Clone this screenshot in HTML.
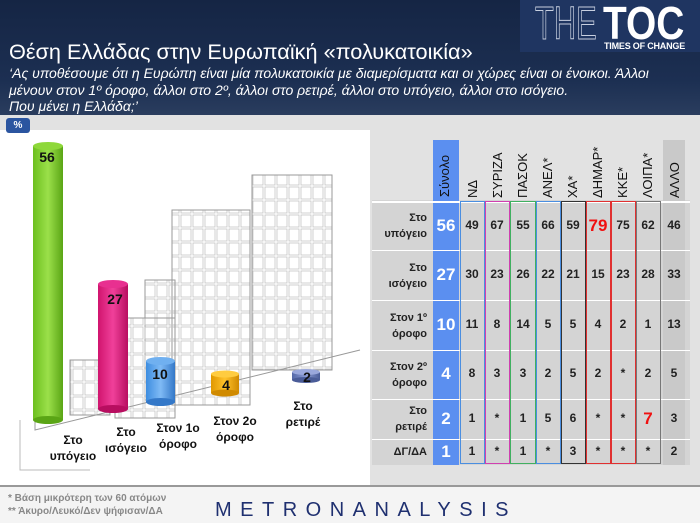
<!DOCTYPE html>
<html><head><meta charset="utf-8"><style>
*{margin:0;padding:0;box-sizing:border-box}
body{width:700px;height:523px;overflow:hidden;position:relative;background:#e2e2e2;font-family:"Liberation Sans","DejaVu Sans",sans-serif}
.hdr{position:absolute;left:0;top:0;width:700px;height:115px;background:linear-gradient(#152544,#1c2f52 70%,#2a3d5e)}
.t{position:absolute;color:#fff;white-space:nowrap}
.tbl div{position:absolute;text-align:center;font-weight:bold;font-size:12px;color:#222}
.lab{position:absolute;text-align:right;font-weight:bold;font-size:11px;color:#222;line-height:16px}
.vh{position:absolute;writing-mode:vertical-rl;transform:rotate(180deg);font-size:13px;color:#111;text-align:left}
.cl{position:absolute;font-weight:bold;font-size:12px;color:#111;text-align:center;line-height:16px}
</style></head><body>
<div class="hdr"></div>
<div style="position:absolute;left:520px;top:0;width:180px;height:52px;background:#1f3561"></div>
<div class="t" style="left:535px;top:0;font-size:46px;line-height:46px;font-weight:normal;color:transparent;-webkit-text-stroke:1px #c8d0e0;transform:scaleX(0.67);transform-origin:left">THE</div>
<div class="t" style="left:603px;top:0;font-size:46px;line-height:46px;font-weight:bold;transform:scaleX(0.845);transform-origin:left">TOC</div>
<div class="t" style="left:604px;top:41px;font-size:9px;font-weight:bold;letter-spacing:-0.2px">TIMES OF CHANGE</div>
<div class="t" style="left:9px;top:39px;font-size:21.7px">Θέση Ελλάδας στην Ευρωπαϊκή «πολυκατοικία»</div>
<div class="t" style="left:9px;top:65px;font-size:14px;font-style:italic;line-height:16.5px">‘Ας υποθέσουμε ότι η Ευρώπη είναι μία πολυκατοικία με διαμερίσματα και οι χώρες είναι οι ένοικοι. Άλλοι<br>μένουν στον 1º όροφο, άλλοι στο 2º, άλλοι στο ρετιρέ, άλλοι στο υπόγειο, άλλοι στο ισόγειο.<br>Που μένει η Ελλάδα;’</div>
<div style="position:absolute;left:0;top:130px;width:370px;height:355px;background:#fff"></div>
<div style="position:absolute;left:6px;top:118px;width:24px;height:15px;background:#2b55a0;border-radius:3px;color:#fff;font-size:10px;font-weight:bold;text-align:center;line-height:15px">%</div>
<svg style="position:absolute;left:0;top:130px" width="370" height="355">
<defs><pattern id="g" width="12" height="14" patternUnits="userSpaceOnUse"><rect x="1" y="1" width="10" height="12" fill="none" stroke="#c4c4c4" stroke-width="0.8"/></pattern></defs>
<g stroke="#999" stroke-width="1" fill="url(#g)">
<rect x="252" y="45" width="80" height="195"/>
<rect x="172" y="80" width="78" height="195"/>
<rect x="145" y="150" width="30" height="120"/>
<rect x="115" y="188" width="60" height="100"/>
<rect x="70" y="230" width="40" height="55"/>
</g>
<polyline points="35,275 35,300 360,220" fill="none" stroke="#999"/>
<polyline points="20,290 20,340 90,340" fill="none" stroke="#bbb"/>
</svg>
<svg style="position:absolute;left:0;top:0" width="370" height="485">
<defs>
<linearGradient id="cg" x1="0" x2="1"><stop offset="0" stop-color="#6cbf1e"/><stop offset=".5" stop-color="#9be04a"/><stop offset="1" stop-color="#5aa515"/></linearGradient>
<linearGradient id="cm" x1="0" x2="1"><stop offset="0" stop-color="#d0146e"/><stop offset=".5" stop-color="#f0409a"/><stop offset="1" stop-color="#b80e60"/></linearGradient>
<linearGradient id="cb" x1="0" x2="1"><stop offset="0" stop-color="#3d8de0"/><stop offset=".5" stop-color="#7fbaf5"/><stop offset="1" stop-color="#3478c8"/></linearGradient>
<linearGradient id="co" x1="0" x2="1"><stop offset="0" stop-color="#e09800"/><stop offset=".5" stop-color="#ffc22a"/><stop offset="1" stop-color="#d08a00"/></linearGradient>
<linearGradient id="cp" x1="0" x2="1"><stop offset="0" stop-color="#5468a8"/><stop offset=".5" stop-color="#8c9cd4"/><stop offset="1" stop-color="#4a5c98"/></linearGradient>
</defs>
<rect x="33" y="146" width="30" height="274" fill="url(#cg)"/><ellipse cx="48" cy="420" rx="15" ry="4" fill="#5aa515"/><ellipse cx="48" cy="146" rx="15" ry="4" fill="#8ed83a"/>
<rect x="98" y="284" width="30" height="125" fill="url(#cm)"/><ellipse cx="113" cy="409" rx="15" ry="4" fill="#b80e60"/><ellipse cx="113" cy="284" rx="15" ry="4" fill="#e83090"/>
<rect x="146" y="361" width="29" height="41" fill="url(#cb)"/><ellipse cx="160.5" cy="402" rx="14.5" ry="4" fill="#3478c8"/><ellipse cx="160.5" cy="361" rx="14.5" ry="4" fill="#70b0f0"/>
<rect x="211" y="374" width="28" height="19" fill="url(#co)"/><ellipse cx="225" cy="393" rx="14" ry="3.5" fill="#d08a00"/><ellipse cx="225" cy="374" rx="14" ry="3.5" fill="#ffcc40"/>
<rect x="292" y="372" width="28" height="8" fill="url(#cp)"/><ellipse cx="306" cy="380" rx="14" ry="3" fill="#4a5c98"/><ellipse cx="306" cy="372" rx="14" ry="3" fill="#9aa8dc"/>
<g font-family="Liberation Sans,sans-serif" font-weight="bold" font-size="14" fill="#111" text-anchor="middle">
<text x="47" y="162">56</text><text x="115" y="304">27</text><text x="160" y="379">10</text><text x="226" y="390">4</text><text x="307" y="382">2</text></g>
</svg>
<div class="cl" style="left:48px;top:432px;width:50px">Στο<br>υπόγειο</div>
<div class="cl" style="left:100px;top:424px;width:52px">Στο<br>ισόγειο</div>
<div class="cl" style="left:150px;top:420px;width:56px">Στον 1ο<br>όροφο</div>
<div class="cl" style="left:206px;top:413px;width:58px">Στον 2ο<br>όροφο</div>
<div class="cl" style="left:278px;top:398px;width:50px">Στο<br>ρετιρέ</div>
<div style="position:absolute;left:372px;top:200px;width:318px;height:265px;background:#d4d4d4"></div>
<div style="position:absolute;left:663px;top:140px;width:22px;height:325px;background:#c9c9c9"></div>
<div style="position:absolute;left:433px;top:140px;width:26px;height:325px;background:#5b8ff0"></div>
<div style="position:absolute;left:372px;top:250px;width:318px;height:1px;background:#fff"></div>
<div style="position:absolute;left:372px;top:300px;width:318px;height:1px;background:#fff"></div>
<div style="position:absolute;left:372px;top:350px;width:318px;height:1px;background:#fff"></div>
<div style="position:absolute;left:372px;top:399px;width:318px;height:1px;background:#fff"></div>
<div style="position:absolute;left:372px;top:439px;width:318px;height:1px;background:#fff"></div>
<div style="position:absolute;left:372px;top:201px;width:318px;height:2px;background:#fff"></div>
<div style="position:absolute;left:460px;top:201px;width:25px;height:263px;border:1.5px solid #4a8ee0"></div>
<div style="position:absolute;left:485px;top:201px;width:25px;height:263px;border:1.5px solid #d040b0"></div>
<div style="position:absolute;left:510px;top:201px;width:26px;height:263px;border:1.5px solid #40b060"></div>
<div style="position:absolute;left:536px;top:201px;width:25px;height:263px;border:1.5px solid #4a8ee0"></div>
<div style="position:absolute;left:561px;top:201px;width:25px;height:263px;border:1.5px solid #333"></div>
<div style="position:absolute;left:586px;top:201px;width:25px;height:263px;border:1.5px solid #e03030"></div>
<div style="position:absolute;left:611px;top:201px;width:25px;height:263px;border:1.5px solid #e03030"></div>
<div style="position:absolute;left:636px;top:201px;width:25px;height:263px;border:1.5px solid #777"></div>
<div class="vh" style="left:437px;top:147px;height:50px;color:#111">Σύνολο</div>
<div class="vh" style="left:465px;top:170px;height:28px">ΝΔ</div>
<div class="vh" style="left:490px;top:150px;height:48px">ΣΥΡΙΖΑ</div>
<div class="vh" style="left:515px;top:150px;height:48px">ΠΑΣΟΚ</div>
<div class="vh" style="left:540px;top:148px;height:50px">ΑΝΕΛ*</div>
<div class="vh" style="left:565px;top:165px;height:33px">ΧΑ*</div>
<div class="vh" style="left:590px;top:143px;height:55px">ΔΗΜΑΡ*</div>
<div class="vh" style="left:615px;top:160px;height:38px">ΚΚΕ*</div>
<div class="vh" style="left:640px;top:148px;height:50px">ΛΟΙΠΑ*</div>
<div class="vh" style="left:667px;top:155px;height:43px">ΑΛΛΟ</div>
<div class="lab" style="left:375px;top:210px;width:52px">Στο<br>υπόγειο</div>
<div class="lab" style="left:375px;top:260px;width:52px">Στο<br>ισόγειο</div>
<div class="lab" style="left:375px;top:310px;width:52px">Στον 1º<br>όροφο</div>
<div class="lab" style="left:375px;top:359px;width:52px">Στον 2º<br>όροφο</div>
<div class="lab" style="left:375px;top:403px;width:52px">Στο<br>ρετιρέ</div>
<div class="lab" style="left:375px;top:444px;width:52px">ΔΓ/ΔΑ</div>
<div class="tbl" id="tb"></div>
<script>
var cols=[446,472,497,523,548,573,598,623,648,674];
var rows=[226,275,325,374,419,452];
var d=[["56","49","67","55","66","59","79","75","62","46"],["27","30","23","26","22","21","15","23","28","33"],["10","11","8","14","5","5","4","2","1","13"],["4","8","3","3","2","5","2","*","2","5"],["2","1","*","1","5","6","*","*","7","3"],["1","1","*","1","*","3","*","*","*","2"]];
var h="";d.forEach(function(r,i){r.forEach(function(v,j){var s="left:"+(cols[j]-13)+"px;top:"+(rows[i]-8)+"px;width:26px;";if(j==0)s+="color:#fff;font-size:17px;top:"+(rows[i]-10)+"px;";if((i==0&&j==6)||(i==4&&j==8))s+="color:#f01010;font-size:17px;top:"+(rows[i]-10)+"px;";h+='<div style="'+s+'">'+v+'</div>'})});
document.getElementById("tb").innerHTML=h;
</script>
<div style="position:absolute;left:0;top:485px;width:700px;height:38px;background:#f4f4f4;border-top:2px solid #999"></div>
<div style="position:absolute;left:8px;top:492px;font-size:10px;color:#888;line-height:13px;font-weight:bold">* Βάση μικρότερη των 60 ατόμων<br>** Άκυρο/Λευκό/Δεν ψήφισαν/ΔΑ</div>
<div style="position:absolute;left:215px;top:499px;font-size:20px;color:#1f3070;letter-spacing:8.5px;white-space:nowrap">METRONANALYSIS</div>
</body></html>
